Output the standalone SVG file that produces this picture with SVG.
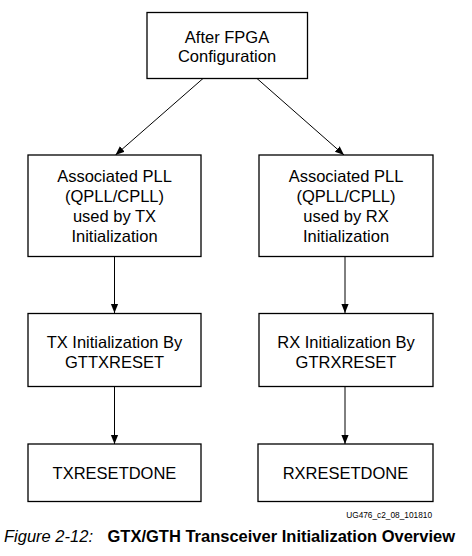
<svg xmlns="http://www.w3.org/2000/svg" width="472" height="556" viewBox="0 0 472 556">
<style>
.box{fill:#fff;stroke:#000;stroke-width:1.3}
.t{font-family:"Liberation Sans",Arial,sans-serif;font-size:16.5px;fill:#000;text-anchor:middle}
.c{stroke:#000;stroke-width:1;fill:none;marker-end:url(#ah)}
</style>
<defs>
<marker id="ah" viewBox="0 0 10 10" refX="10" refY="5" markerWidth="9" markerHeight="9" markerUnits="userSpaceOnUse" orient="auto">
<path d="M0,1 L10,5 L0,9 Z" fill="#000"/>
</marker>
</defs>
<rect width="472" height="556" fill="#fff"/>
<g id="connectors">
<line class="c" x1="203" y1="78.5" x2="115.5" y2="155"/>
<line class="c" x1="257" y1="78.5" x2="344" y2="155"/>
<line class="c" x1="114.5" y1="256.5" x2="114.5" y2="313"/>
<line class="c" x1="345" y1="256.5" x2="345" y2="313"/>
<line class="c" x1="114.5" y1="386.5" x2="114.5" y2="444"/>
<line class="c" x1="345" y1="386.5" x2="345" y2="444"/>
</g>
<g id="n_after">
<rect class="box" x="147" y="12.5" width="160.5" height="66"/>
<text class="t" x="227" y="43">After FPGA</text>
<text class="t" x="227" y="62">Configuration</text>
</g>
<g id="n_txpll">
<rect class="box" x="28" y="155" width="173" height="101.5"/>
<text class="t" x="114.5" y="181.5">Associated PLL</text>
<text class="t" x="114.5" y="201.5">(QPLL/CPLL)</text>
<text class="t" x="114.5" y="221.5">used by TX</text>
<text class="t" x="114.5" y="241.5">Initialization</text>
</g>
<g id="n_rxpll">
<rect class="box" x="259" y="155" width="174" height="101.5"/>
<text class="t" x="346" y="181.5">Associated PLL</text>
<text class="t" x="346" y="201.5">(QPLL/CPLL)</text>
<text class="t" x="346" y="221.5">used by RX</text>
<text class="t" x="346" y="241.5">Initialization</text>
</g>
<g id="n_txinit">
<rect class="box" x="28" y="313.5" width="173" height="73"/>
<text class="t" x="114.5" y="347.5">TX Initialization By</text>
<text class="t" x="114.5" y="368">GTTXRESET</text>
</g>
<g id="n_rxinit">
<rect class="box" x="259" y="313.5" width="174" height="73"/>
<text class="t" x="346" y="347.5">RX Initialization By</text>
<text class="t" x="346" y="368">GTRXRESET</text>
</g>
<g id="n_txdone">
<rect class="box" x="28" y="444" width="173" height="57.5"/>
<text class="t" x="114.5" y="478.5">TXRESETDONE</text>
</g>
<g id="n_rxdone">
<rect class="box" x="258" y="444" width="175" height="57.5"/>
<text class="t" x="345.5" y="478.5">RXRESETDONE</text>
</g>
<text x="432" y="517.5" font-family="'Liberation Sans',Arial,sans-serif" font-size="8.3" text-anchor="end" fill="#000">UG476_c2_08_101810</text>
<text x="4" y="542" font-family="'Liberation Sans',Arial,sans-serif" font-size="16.5" font-style="italic" fill="#000">Figure 2-12:</text>
<text x="107.5" y="542" font-family="'Liberation Sans',Arial,sans-serif" font-size="16.5" font-weight="bold" fill="#000">GTX/GTH Transceiver Initialization Overview</text>
</svg>
